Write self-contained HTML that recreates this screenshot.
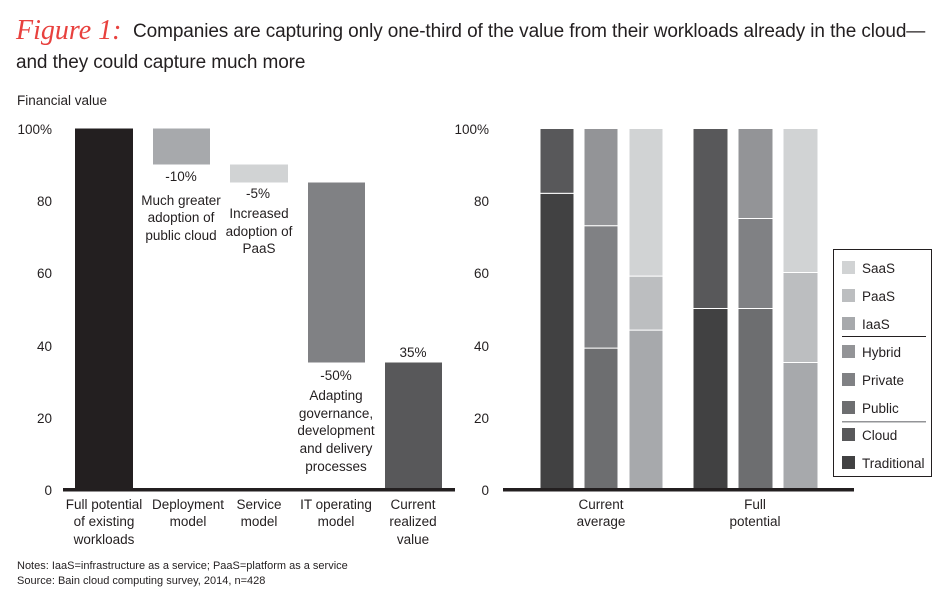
<!DOCTYPE html>
<html><head><meta charset="utf-8"><style>
body{margin:0;background:#fff;width:950px;height:592px;overflow:hidden}
svg{display:block}
text{font-family:"Liberation Sans",sans-serif;fill:#231f20}
</style></head><body>
<svg width="950" height="592" viewBox="0 0 950 592">
<text x="16" y="39" font-size="28" style="fill:#e8413e;font-family:'Liberation Serif',serif;font-style:italic">Figure 1:</text>
<text x="133" y="37" font-size="19" letter-spacing="-0.1">Companies are capturing only one-third of the value from their workloads already in the cloud—</text>
<text x="16" y="68" font-size="19" letter-spacing="-0.1">and they could capture much more</text>
<text x="17" y="105" font-size="13.5">Financial value</text>
<g font-size="13.5" text-anchor="end">
<text x="52" y="134">100%</text><text x="52" y="206">80</text><text x="52" y="278">60</text><text x="52" y="351">40</text><text x="52" y="423">20</text><text x="52" y="495">0</text>
<text x="489" y="134">100%</text><text x="489" y="206">80</text><text x="489" y="278">60</text><text x="489" y="351">40</text><text x="489" y="423">20</text><text x="489" y="495">0</text>
</g>
<rect x="75" y="128.5" width="58" height="360" fill="#231f20"/>
<rect x="153" y="128.5" width="57" height="36" fill="#a7a9ac"/>
<rect x="230" y="164.5" width="58" height="18" fill="#d1d3d4"/>
<rect x="308" y="182.5" width="57" height="180" fill="#808184"/>
<rect x="385" y="362.5" width="57" height="126" fill="#58585a"/>
<rect x="63" y="488" width="392" height="3.5" fill="#231f20"/>
<g font-size="13.5" text-anchor="middle">
<text x="181" y="181">-10%</text>
<text x="181" y="205">Much greater</text><text x="181" y="222">adoption of</text><text x="181" y="240">public cloud</text>
<text x="258" y="198">-5%</text>
<text x="259" y="218">Increased</text><text x="259" y="236">adoption of</text><text x="259" y="253">PaaS</text>
<text x="336" y="380">-50%</text>
<text x="336" y="400">Adapting</text><text x="336" y="418">governance,</text><text x="336" y="435">development</text><text x="336" y="453">and delivery</text><text x="336" y="471">processes</text>
<text x="413" y="357">35%</text>
<text x="104" y="509">Full potential</text><text x="104" y="526">of existing</text><text x="104" y="544">workloads</text>
<text x="188" y="509">Deployment</text><text x="188" y="526">model</text>
<text x="259" y="509">Service</text><text x="259" y="526">model</text>
<text x="336" y="509">IT operating</text><text x="336" y="526">model</text>
<text x="413" y="509">Current</text><text x="413" y="526">realized</text><text x="413" y="544">value</text>
<text x="601" y="509">Current</text><text x="601" y="526">average</text>
<text x="755" y="509">Full</text><text x="755" y="526">potential</text>
</g>
<g stroke="#fff" stroke-width="1">
<rect x="540" y="193.3" width="34" height="295.2" fill="#414142"/>
<rect x="540" y="128.5" width="34" height="64.8" fill="#58585a"/>
<rect x="584" y="348.1" width="34" height="140.4" fill="#6d6e70"/>
<rect x="584" y="225.7" width="34" height="122.4" fill="#808184"/>
<rect x="584" y="128.5" width="34" height="97.2" fill="#939497"/>
<rect x="629" y="330.1" width="34" height="158.4" fill="#a7a9ac"/>
<rect x="629" y="276.1" width="34" height="54" fill="#bcbec0"/>
<rect x="629" y="128.5" width="34" height="147.6" fill="#d1d3d4"/>
<rect x="693" y="308.5" width="35" height="180" fill="#414142"/>
<rect x="693" y="128.5" width="35" height="180" fill="#58585a"/>
<rect x="738" y="308.5" width="35" height="180" fill="#6d6e70"/>
<rect x="738" y="218.5" width="35" height="90" fill="#808184"/>
<rect x="738" y="128.5" width="35" height="90" fill="#939497"/>
<rect x="783" y="362.5" width="35" height="126" fill="#a7a9ac"/>
<rect x="783" y="272.5" width="35" height="90" fill="#bcbec0"/>
<rect x="783" y="128.5" width="35" height="144" fill="#d1d3d4"/>
</g>
<rect x="503" y="488" width="351" height="3.5" fill="#231f20"/>
<rect x="833.5" y="249.5" width="98" height="227" fill="#fff" stroke="#231f20" stroke-width="1"/>
<g font-size="13.5">
<rect x="842" y="261" width="13" height="13" fill="#d1d3d4"/><text x="862" y="273">SaaS</text>
<rect x="842" y="289" width="13" height="13" fill="#bcbec0"/><text x="862" y="301">PaaS</text>
<rect x="842" y="317" width="13" height="13" fill="#a7a9ac"/><text x="862" y="329">IaaS</text>
<rect x="842" y="345" width="13" height="13" fill="#939497"/><text x="862" y="357">Hybrid</text>
<rect x="842" y="373" width="13" height="13" fill="#808184"/><text x="862" y="385">Private</text>
<rect x="842" y="401" width="13" height="13" fill="#6d6e70"/><text x="862" y="413">Public</text>
<rect x="842" y="428" width="13" height="13" fill="#58585a"/><text x="862" y="440">Cloud</text>
<rect x="842" y="456" width="13" height="13" fill="#414142"/><text x="862" y="468">Traditional</text>
</g>
<rect x="842" y="336" width="84" height="1" fill="#231f20"/>
<rect x="842" y="421" width="84" height="1.5" fill="#939497"/>
<g font-size="11">
<text x="17" y="569">Notes: IaaS=infrastructure as a service; PaaS=platform as a service</text>
<text x="17" y="584">Source: Bain cloud computing survey, 2014, n=428</text>
</g>
</svg>
</body></html>
